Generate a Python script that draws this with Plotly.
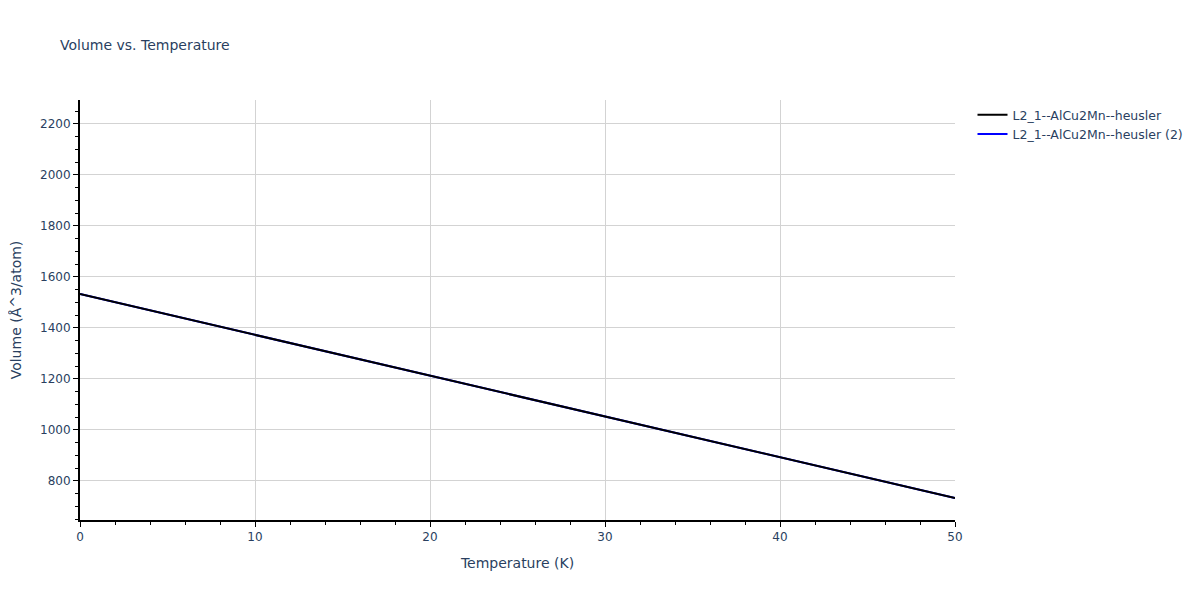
import plotly.graph_objects as go

temperature = [0, 5, 10, 15, 20, 25, 30, 35, 40, 45, 50]
volume_1 = [1533, 1453, 1373, 1293, 1213, 1133, 1053, 973, 893, 813, 733]
volume_2 = [1533, 1453, 1373, 1293, 1213, 1133, 1053, 973, 893, 813, 733]
names = ["L2_1--AlCu2Mn--heusler", "L2_1--AlCu2Mn--heusler (2)"]

fig = go.Figure()
fig.add_trace(go.Scatter(x=temperature, y=volume_2, mode="lines", name=names[1],
                         line=dict(color="blue", width=2), legendrank=2))
fig.add_trace(go.Scatter(x=temperature, y=volume_1, mode="lines", name=names[0],
                         line=dict(color="black", width=2), legendrank=1))

axis_common = dict(showline=True, linecolor="black", linewidth=2, ticks="outside",
                   tickcolor="black", ticklen=5, showgrid=True, gridcolor="lightgray",
                   zeroline=False, title_font=dict(size=14), automargin=False)
fig.update_layout(
    template="plotly_white",
    width=1200, height=600,
    font=dict(family="DejaVu Sans, Verdana, sans-serif", size=12, color="#2a3f5f"),
    title=dict(text="Volume vs. Temperature", font=dict(size=14),
               x=52 / 1200, xanchor="left", y=1 - 37 / 600, yanchor="middle"),
    xaxis=dict(title="Temperature (K)", range=[0, 50], dtick=10,
               minor=dict(dtick=2, ticks="outside", ticklen=3, tickcolor="black", showgrid=False),
               **axis_common),
    yaxis=dict(title=dict(text="Volume (Å^3/atom)"), range=[647, 2294], dtick=200,
               minor=dict(dtick=50, ticks="outside", ticklen=3, tickcolor="black", showgrid=False),
               **axis_common),
    legend=dict(x=1.02, y=1, traceorder="normal", font=dict(size=12.5)),
    margin=dict(l=72, r=253, t=92, b=88),
)
fig.write_html("out.html")
